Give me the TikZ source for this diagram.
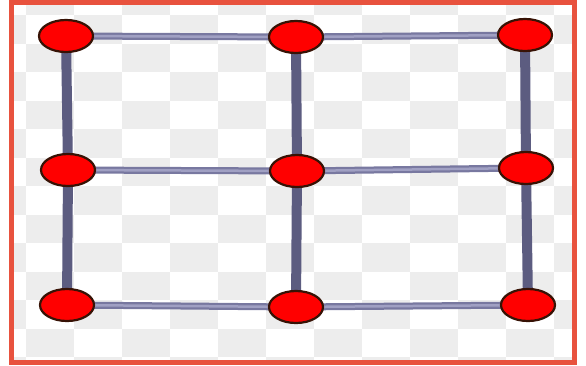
\documentclass[tikz,border=0pt]{standalone}
\usetikzlibrary{shapes.geometric}
\definecolor{frame}{RGB}{232,82,62}
\definecolor{checker}{RGB}{237,237,237}
\definecolor{vline}{RGB}{92,92,128}
\definecolor{hline}{RGB}{120,120,160}
\definecolor{hlinein}{RGB}{160,160,195}
\definecolor{nodeedge}{RGB}{55,18,5}
\pgfdeclarelayer{bg}
\pgfdeclarelayer{edges}
\pgfsetlayers{bg,edges,main}
\tikzset{
  vertex/.style={ellipse, draw=nodeedge, fill=red, line width=2.2pt,
    minimum width=54pt, minimum height=32pt, inner sep=0pt},
  vedge/.style={draw=vline, line width=10pt},
  hedge/.style={draw=hline, line width=7pt},
  hedgein/.style={draw=hlinein, line width=2.5pt},
  frameline/.style={draw=frame, line width=5pt}
}
\begin{document}
\begin{tikzpicture}[x=1pt,y=-1pt]
\useasboundingbox (0,0) rectangle (586,365);
% checkerboard background
\begin{pgfonlayer}{bg}
  \fill[white] (9,0) rectangle (577,365);
  \begin{scope}
    \clip (14,5) rectangle (572,360);
    \foreach \i in {-1,...,11}{
      \foreach \j in {-1,...,12}{
        \pgfmathtruncatemacro\s{\i+\j}
        \ifodd\s
          \fill[checker] ({26+48*\i},{15+28.5*\j}) rectangle ++(48,28.5);
        \fi
      }
    }
  \end{scope}
\end{pgfonlayer}
% nodes
\node[vertex] (a1) at (66,36) {};
\node[vertex] (a2) at (296,37) {};
\node[vertex] (a3) at (525,35) {};
\node[vertex] (b1) at (68,170) {};
\node[vertex] (b2) at (297,171) {};
\node[vertex] (b3) at (526,168) {};
\node[vertex] (c1) at (67,305) {};
\node[vertex] (c2) at (296,307) {};
\node[vertex] (c3) at (528,305) {};
% edges
\begin{pgfonlayer}{edges}
  \foreach \u/\v in {a1/a2,a2/a3,b1/b2,b2/b3,c1/c2,c2/c3}{
    \path[hedge] (\u.center) -- (\v.center);
    \path[hedgein] (\u.center) -- (\v.center);
  }
  \foreach \u/\v in {a1/b1,b1/c1,a2/b2,b2/c2,a3/b3,b3/c3}{
    \path[vedge] (\u.center) -- (\v.center);
  }
\end{pgfonlayer}
% frame
\draw[frameline] (11.5,2.5) rectangle (574.5,362.5);
\end{tikzpicture}
\end{document}
